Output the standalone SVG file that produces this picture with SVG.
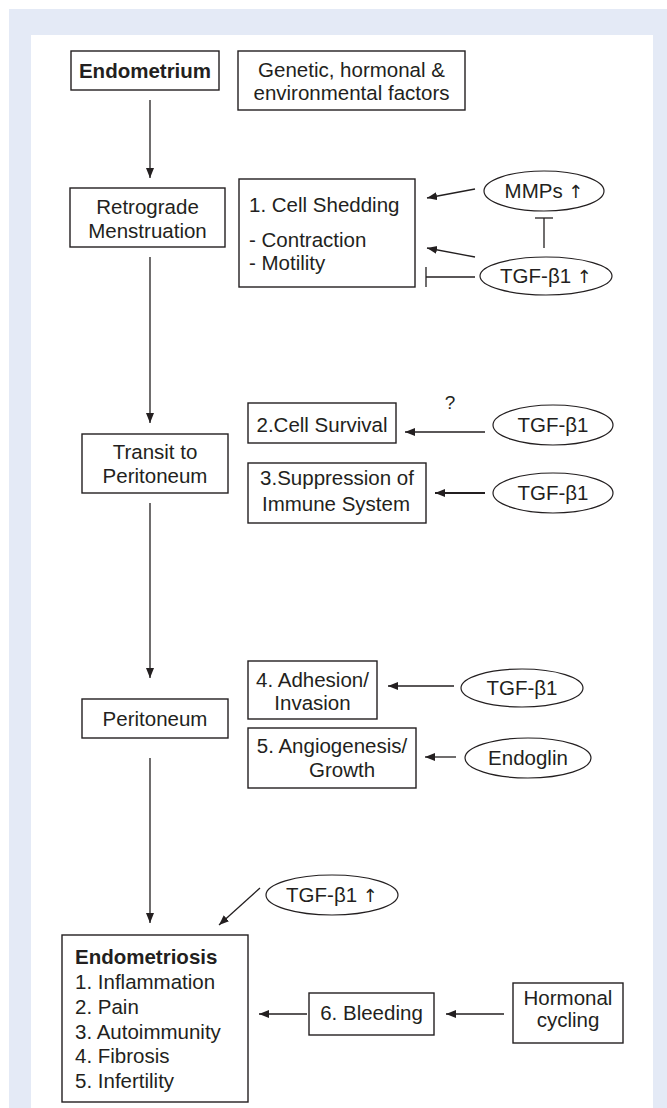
<svg xmlns="http://www.w3.org/2000/svg" width="667" height="1108" viewBox="0 0 667 1108">
<defs>
<marker id="ah" markerUnits="userSpaceOnUse" markerWidth="11" markerHeight="9" refX="10" refY="4" orient="auto">
<path d="M0,0 L10,4 L0,8 z" fill="#231f20"/>
</marker>
<style>
.bx{fill:#fff;stroke:#231f20;stroke-width:1.4}
.el{fill:#fff;stroke:#231f20;stroke-width:1.2}
.ln{fill:none;stroke:#231f20;stroke-width:1.3}
.ar{fill:none;stroke:#231f20;stroke-width:1.3;marker-end:url(#ah)}
text{font-family:"Liberation Sans",Arial,Helvetica,sans-serif;font-size:20.5px;fill:#231f20}
.up{font-family:"DejaVu Sans","Liberation Sans",sans-serif;font-size:18px;fill:#231f20}
.c{text-anchor:middle}
.b{font-weight:bold}
</style>
</defs>
<rect x="9" y="9" width="658" height="1099" fill="#e4eaf6"/>
<rect x="31" y="35" width="622" height="1073" fill="#fff"/>

<g id="connectors">
<line class="ar" x1="150" y1="100" x2="150" y2="178"/>
<line class="ar" x1="150" y1="257" x2="150" y2="423"/>
<line class="ar" x1="150" y1="503" x2="150" y2="678"/>
<line class="ar" x1="150" y1="758" x2="150" y2="923"/>
<line class="ar" x1="475" y1="189" x2="427" y2="198"/>
<line class="ar" x1="475" y1="257" x2="427" y2="248"/>
<line class="ln" x1="475" y1="277" x2="426" y2="277"/>
<line class="ln" x1="426" y1="267" x2="426" y2="287"/>
<line class="ln" x1="544" y1="248" x2="544" y2="218"/>
<line class="ln" x1="535" y1="218" x2="553" y2="218"/>
<line class="ar" x1="485" y1="432" x2="405" y2="432"/>
<line class="ar" x1="485" y1="493" x2="435" y2="493" style="stroke-width:2"/>
<line class="ar" x1="454" y1="686" x2="388" y2="686"/>
<line class="ar" x1="456" y1="757" x2="425" y2="757"/>
<line class="ar" x1="260" y1="888" x2="219" y2="925"/>
<line class="ar" x1="307" y1="1014" x2="259" y2="1014"/>
<line class="ar" x1="504" y1="1014" x2="446" y2="1014"/>
<text x="450" y="409" class="c" style="font-size:19px">?</text>
</g>

<g id="endometrium">
<rect class="bx" x="71" y="51" width="148" height="39"/>
<text x="145" y="78" class="c b">Endometrium</text>
</g>
<g id="factors">
<rect class="bx" x="238" y="51" width="227" height="59"/>
<text x="351.5" y="77" class="c">Genetic, hormonal &amp;</text>
<text x="351.5" y="100" class="c">environmental factors</text>
</g>
<g id="retrograde">
<rect class="bx" x="70" y="188" width="155" height="59"/>
<text x="147.5" y="214" class="c">Retrograde</text>
<text x="147.5" y="238" class="c">Menstruation</text>
</g>
<g id="shedding">
<rect class="bx" x="239" y="179" width="176" height="108"/>
<text x="249" y="212">1. Cell Shedding</text>
<text x="249" y="247">- Contraction</text>
<text x="249" y="270">- Motility</text>
</g>
<g id="mmps">
<ellipse class="el" cx="544" cy="191" rx="60" ry="20"/>
<text x="544" y="198" class="c">MMPs <tspan class="up">↑</tspan></text>
</g>
<g id="tgf1">
<ellipse class="el" cx="546" cy="276" rx="66" ry="19"/>
<text x="546" y="283" class="c">TGF-β1 <tspan class="up">↑</tspan></text>
</g>
<g id="transit">
<rect class="bx" x="82" y="434" width="146" height="59"/>
<text x="155" y="459" class="c">Transit to</text>
<text x="155" y="483" class="c">Peritoneum</text>
</g>
<g id="survival">
<rect class="bx" x="248" y="403" width="148" height="40"/>
<text x="322" y="432" class="c">2.Cell Survival</text>
</g>
<g id="tgf2">
<ellipse class="el" cx="553" cy="425" rx="60" ry="20"/>
<text x="553" y="432" class="c">TGF-β1</text>
</g>
<g id="suppression">
<rect class="bx" x="248" y="463" width="178" height="60"/>
<text x="337" y="485" class="c">3.Suppression of</text>
<text x="336" y="511" class="c">Immune System</text>
</g>
<g id="tgf3">
<ellipse class="el" cx="553" cy="493" rx="60" ry="20"/>
<text x="553" y="500" class="c">TGF-β1</text>
</g>
<g id="peritoneum">
<rect class="bx" x="82" y="699" width="146" height="39"/>
<text x="155" y="726" class="c">Peritoneum</text>
</g>
<g id="adhesion">
<rect class="bx" x="248" y="661" width="129" height="58"/>
<text x="312.5" y="687" class="c">4. Adhesion/</text>
<text x="312.5" y="710" class="c">Invasion</text>
</g>
<g id="tgf4">
<ellipse class="el" cx="522" cy="688" rx="61" ry="19"/>
<text x="522" y="695" class="c">TGF-β1</text>
</g>
<g id="angiogenesis">
<rect class="bx" x="248" y="728" width="168" height="60"/>
<text x="332" y="753" class="c">5. Angiogenesis/</text>
<text x="342" y="777" class="c">Growth</text>
</g>
<g id="endoglin">
<ellipse class="el" cx="528" cy="758" rx="63" ry="20"/>
<text x="528" y="765" class="c">Endoglin</text>
</g>
<g id="tgf5">
<ellipse class="el" cx="332" cy="895" rx="66" ry="20"/>
<text x="332" y="902" class="c">TGF-β1 <tspan class="up">↑</tspan></text>
</g>
<g id="endometriosis">
<rect class="bx" x="62" y="935" width="186" height="167"/>
<text x="75" y="964" class="b">Endometriosis</text>
<text x="75" y="989">1. Inflammation</text>
<text x="75" y="1014">2. Pain</text>
<text x="75" y="1039">3. Autoimmunity</text>
<text x="75" y="1063">4. Fibrosis</text>
<text x="75" y="1088">5. Infertility</text>
</g>
<g id="bleeding">
<rect class="bx" x="309" y="993" width="125" height="42"/>
<text x="371.5" y="1020" class="c">6. Bleeding</text>
</g>
<g id="hormonal">
<rect class="bx" x="513" y="983" width="110" height="60"/>
<text x="568" y="1005" class="c">Hormonal</text>
<text x="568" y="1027" class="c">cycling</text>
</g>
</svg>
